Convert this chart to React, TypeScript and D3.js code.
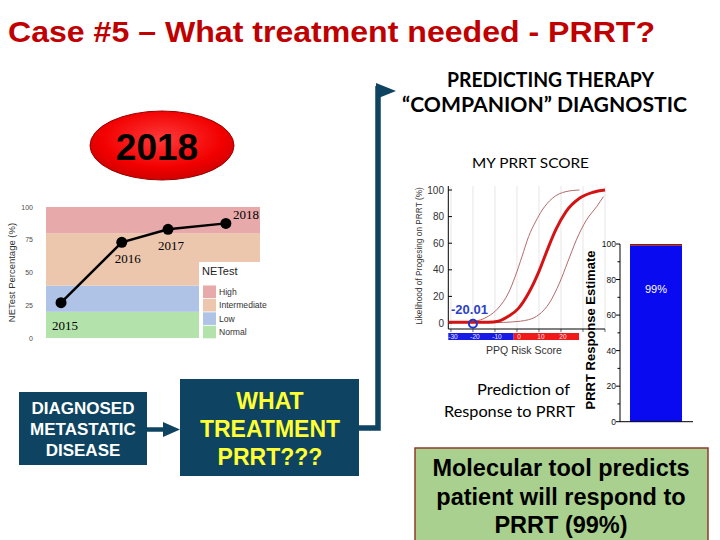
import React, { useEffect, useRef } from 'react';
import * as d3 from 'd3';

// NETest history (left chart)
const netestYears = ['2015', '2016', '2017', '2018'];
const netestDates = [2015.2, 2016.25, 2017.05, 2018.05];
const netestValues = [27, 73, 83, 87.5];
const netestTicks = [0, 25, 50, 75, 100];
const netestBandNames = ['Normal', 'Low', 'Intermediate', 'High'];
const netestBandEdges = [0, 20, 40, 80, 100];

// PPQ risk score curves
const ppqMainX = [-31, -20, -13, -8.5, -3.9, 0.7, 5.3, 10, 13.8, 17.6, 22.3, 28.4, 34.6, 40];
const ppqMainY = [0.5, 0.5, 0.6, 1.3, 5, 11, 22.5, 38.8, 55, 70, 83.8, 93.8, 98.3, 100];
const ppqLowX = [-31, -20, -13.1, -8.5, -3.9, -0.8, 2.3, 5.3, 8.4, 11.5, 16.1, 22.3, 28.4];
const ppqLowY = [0.3, 1.2, 5, 11.2, 22.5, 35, 50, 65, 76, 85, 93.8, 98.8, 100];
const ppqHighX = [-31, -10, -2.3, 5.3, 10, 14.7, 19.3, 23.1, 27, 31.6, 36.2, 39.3];
const ppqHighY = [0.2, 0.3, 0.8, 2.5, 6.3, 15, 30, 46, 62.5, 77.5, 87.5, 95];
const ppqTicksY = [0, 20, 40, 60, 80, 100];
const ppqTicksX = [-30, -20, -10, 0, 10, 20, 30, 40];
const ppqBarLabels = [-30, -20, -10, 0, 10, 20];
const patientScore = -20.01;

// PRRT response estimate (bar)
const responseEstimate = 99;
const responseTicks = [0, 20, 40, 60, 80, 100];

const SANS = 'Liberation Sans, Arial, sans-serif';
const CAL = 'Lato, Carlito, sans-serif';
const SERIF = 'Liberation Serif, Times New Roman, serif';
const NAVY = '#0e4461';
const bandColors = ['#b3e3ab', '#afc3e6', '#ecc6ad', '#e8a9aa'];
const labelOffsets = [[-9, 27], [-7, 21], [-10, 21], [7, -4]];

const W = 720;
const H = 540;

const App: React.FC = () => {
  const svgRef = useRef<SVGSVGElement>(null);

  useEffect(() => {
    if (!svgRef.current) return;
    const svg = d3.select(svgRef.current);
    svg.selectAll('*').remove();

    svg.append('rect').attr('width', W).attr('height', H).attr('fill', '#fff');

    const text = (x: number, y: number, s: string, size: number, opts: any = {}) => {
      const t = svg.append('text')
        .attr('x', x)
        .attr('y', y)
        .attr('font-family', opts.family || SANS)
        .attr('font-size', size)
        .attr('font-weight', opts.weight || 'normal')
        .attr('fill', opts.fill || '#000')
        .attr('text-anchor', opts.anchor || 'start')
        .text(s);
      if (opts.len) t.attr('textLength', opts.len).attr('lengthAdjust', 'spacingAndGlyphs');
      if (opts.rotate) t.attr('transform', `rotate(-90, ${x}, ${y})`);
      return t;
    };

    // Title
    text(8, 42, 'Case #5 – What treatment needed - PRRT?', 30, { weight: 'bold', fill: '#c00000', len: 647 });

    // Red "2018" ellipse
    const defs = svg.append('defs');
    const grad = defs.append('radialGradient').attr('id', 'redGlow').attr('cx', '50%').attr('cy', '40%').attr('r', '60%');
    grad.append('stop').attr('offset', '0%').attr('stop-color', '#ff3a3a');
    grad.append('stop').attr('offset', '70%').attr('stop-color', '#f20000');
    grad.append('stop').attr('offset', '100%').attr('stop-color', '#d00000');
    svg.append('ellipse')
      .attr('cx', 162).attr('cy', 145.5).attr('rx', 72).attr('ry', 34.5)
      .attr('fill', 'url(#redGlow)').attr('stroke', '#9a0000').attr('stroke-width', 1);
    text(157, 160, '2018', 37, { weight: 'bold', anchor: 'middle' });

    // NETest chart
    const nx = d3.scaleLinear().domain([2014.94, 2018.64]).range([46, 260]);
    const ny = d3.scaleLinear().domain([0, 100]).range([338, 207]);
    const ng = svg.append('g');
    netestBandNames.forEach((name, i) => {
      ng.append('rect')
        .attr('x', nx(2014.94))
        .attr('width', nx(2018.64) - nx(2014.94))
        .attr('y', ny(netestBandEdges[i + 1]))
        .attr('height', ny(netestBandEdges[i]) - ny(netestBandEdges[i + 1]))
        .attr('fill', bandColors[i]);
    });
    netestTicks.forEach(t => {
      text(33, ny(t) + 2.5, String(t), 7, { anchor: 'end', fill: '#4d4d4d' });
    });
    text(15, ny(50), 'NETest Percentage (%)', 9.5, { anchor: 'middle', fill: '#333', rotate: true });

    // legend
    ng.append('rect').attr('x', 199).attr('y', 262).attr('width', 74).attr('height', 96).attr('fill', '#fff');
    text(202, 275, 'NETest', 11, { fill: '#222' });
    const legendOrder = [3, 2, 1, 0];
    legendOrder.forEach((bi, k) => {
      const y = 285.5 + k * 13.4;
      ng.append('rect').attr('x', 203).attr('y', y).attr('width', 13).attr('height', 12.6).attr('fill', bandColors[bi]);
      text(219, y + 9.5, netestBandNames[bi], 8.6, { fill: '#333' });
    });

    const line = d3.line<number>()
      .x((d, i) => nx(netestDates[i]))
      .y(d => ny(d));
    ng.append('path')
      .datum(netestValues)
      .attr('fill', 'none')
      .attr('stroke', '#000')
      .attr('stroke-width', 2.5)
      .attr('d', line);
    netestValues.forEach((v, i) => {
      ng.append('circle').attr('cx', nx(netestDates[i])).attr('cy', ny(v)).attr('r', 5.5).attr('fill', '#000');
      text(nx(netestDates[i]) + labelOffsets[i][0], ny(v) + labelOffsets[i][1], netestYears[i], 13, { family: SERIF });
    });

    // Flow boxes
    svg.append('rect').attr('x', 19).attr('y', 392).attr('width', 128).attr('height', 73).attr('fill', NAVY);
    ['DIAGNOSED', 'METASTATIC', 'DISEASE'].forEach((s, i) => {
      text(83, 414 + i * 21, s, 17, { weight: 'bold', fill: '#fff', anchor: 'middle' });
    });
    svg.append('line').attr('x1', 147).attr('x2', 166).attr('y1', 429.5).attr('y2', 429.5)
      .attr('stroke', NAVY).attr('stroke-width', 4.5);
    svg.append('path').attr('d', 'M163,422 L180,429.5 L163,437 Z').attr('fill', NAVY);

    svg.append('rect').attr('x', 180).attr('y', 379).attr('width', 179).attr('height', 97).attr('fill', NAVY);
    ['WHAT', 'TREATMENT', 'PRRT???'].forEach((s, i) => {
      text(270, 409 + i * 28, s, 23, { weight: 'bold', fill: '#ffff33', anchor: 'middle' });
    });

    // connector up to the companion diagnostic
    svg.append('path')
      .attr('d', 'M359,428 L378,428 L378,86')
      .attr('fill', 'none').attr('stroke', NAVY).attr('stroke-width', 5.5);
    svg.append('path').attr('d', 'M376,83 L396,91 L376,99 Z').attr('fill', NAVY);

    text(447, 87, 'PREDICTING THERAPY', 21, { family: CAL, weight: 'bold', len: 207 });
    text(402, 112, '“COMPANION” DIAGNOSTIC', 21, { family: CAL, weight: 'bold', len: 285 });
    text(472, 168, 'MY PRRT SCORE', 14, { family: CAL, len: 117 });

    // PPQ chart
    const px = d3.scaleLinear().domain([-31.2, 40]).range([448.3, 605]);
    const py = d3.scaleLinear().domain([0, 100]).range([323, 190]);
    const pg = svg.append('g');
    ppqTicksX.forEach(t => {
      pg.append('line').attr('x1', px(t)).attr('x2', px(t)).attr('y1', 186).attr('y2', 329)
        .attr('stroke', '#e6e6e6').attr('stroke-width', 1);
      pg.append('line').attr('x1', px(t)).attr('x2', px(t)).attr('y1', 329).attr('y2', 332)
        .attr('stroke', '#444').attr('stroke-width', 0.8);
    });
    pg.append('line').attr('x1', 448.3).attr('x2', 448.3).attr('y1', 186).attr('y2', 329).attr('stroke', '#000');
    pg.append('line').attr('x1', 448.3).attr('x2', 605).attr('y1', 329).attr('y2', 329).attr('stroke', '#000');
    ppqTicksY.forEach(t => {
      pg.append('line').attr('x1', 448.3).attr('x2', 452).attr('y1', py(t)).attr('y2', py(t)).attr('stroke', '#000');
      text(444, py(t) + 3.5, String(t), 10, { anchor: 'end', fill: '#333' });
    });
    text(422, 256, 'Likelihood of Progesing on PRRT (%)', 8.3, { anchor: 'middle', fill: '#333', rotate: true });

    // colour bar
    pg.append('rect').attr('x', px(-31.2)).attr('y', 333).attr('width', px(-1.5) - px(-31.2)).attr('height', 7).attr('fill', '#1a1ae6');
    pg.append('rect').attr('x', px(-1.5)).attr('y', 333).attr('width', px(28.2) - px(-1.5)).attr('height', 7).attr('fill', '#f01a1a');
    ppqBarLabels.forEach(t => {
      text(px(t) + 2, 339, String(t), 6.5, { anchor: 'middle', fill: '#e8e8f0' });
    });
    text(524, 354, 'PPQ Risk Score', 10.5, { anchor: 'middle', fill: '#333' });

    const curve = d3.line<[number, number]>()
      .x(d => px(d[0]))
      .y(d => py(d[1]))
      .curve(d3.curveMonotoneX);
    const pairs = (xs: number[], ys: number[]) => xs.map((x, i) => [x, ys[i]] as [number, number]);
    pg.append('path').datum(pairs(ppqLowX, ppqLowY)).attr('d', curve)
      .attr('fill', 'none').attr('stroke', '#b46a6a').attr('stroke-width', 1);
    pg.append('path').datum(pairs(ppqHighX, ppqHighY)).attr('d', curve)
      .attr('fill', 'none').attr('stroke', '#b46a6a').attr('stroke-width', 1);
    pg.append('path').datum(pairs(ppqMainX, ppqMainY)).attr('d', curve)
      .attr('fill', 'none').attr('stroke', '#d41414').attr('stroke-width', 3);

    pg.append('circle').attr('cx', px(patientScore)).attr('cy', py(0) + 0.7).attr('r', 4)
      .attr('fill', 'none').attr('stroke', '#2035cc').attr('stroke-width', 2);
    text(451, 314, String(patientScore), 13, { weight: 'bold', fill: '#2b3fc8' });

    // Response estimate bar
    const by = d3.scaleLinear().domain([0, 100]).range([421.7, 244]);
    const bg = svg.append('g');
    bg.append('rect').attr('x', 630).attr('width', 52)
      .attr('y', by(responseEstimate)).attr('height', by(0) - by(responseEstimate)).attr('fill', '#0a0af0');
    bg.append('rect').attr('x', 630).attr('width', 52)
      .attr('y', by(100)).attr('height', by(responseEstimate) - by(100)).attr('fill', '#8b1a1a');
    bg.append('line').attr('x1', 620).attr('x2', 620).attr('y1', by(100)).attr('y2', by(0)).attr('stroke', '#000');
    bg.append('line').attr('x1', 620).attr('x2', 693).attr('y1', by(0)).attr('y2', by(0)).attr('stroke', '#000');
    d3.range(0, 101, 10).forEach(t => {
      bg.append('line').attr('x1', t % 20 === 0 ? 616 : 617.5).attr('x2', 620).attr('y1', by(t)).attr('y2', by(t)).attr('stroke', '#000');
    });
    responseTicks.forEach(t => {
      text(616, by(t) + 3, String(t), 8.5, { anchor: 'end', fill: '#111' });
    });
    text(656, 293, `${responseEstimate}%`, 11, { anchor: 'middle', fill: '#fff' });
    text(595, 330, 'PRRT Response Estimate', 13, { weight: 'bold', anchor: 'middle', rotate: true });

    text(477, 395, 'Prediction of', 15, { family: CAL, len: 93 });
    text(444, 417, 'Response to PRRT', 15, { family: CAL, len: 131 });

    // Conclusion box
    svg.append('rect').attr('x', 415).attr('y', 448).attr('width', 293).attr('height', 100)
      .attr('fill', '#a9d08e').attr('stroke', '#8e3b2e').attr('stroke-width', 1.5);
    ['Molecular tool predicts', 'patient will respond to', 'PRRT (99%)'].forEach((s, i) => {
      text(561, 476 + i * 28.5, s, 23.5, { weight: 'bold', anchor: 'middle' });
    });
  }, []);

  return (
    <svg
      ref={svgRef}
      width={W}
      height={H}
      style={{ position: 'absolute', left: 0, top: 0, display: 'block' }}
    />
  );
};

export default App;
